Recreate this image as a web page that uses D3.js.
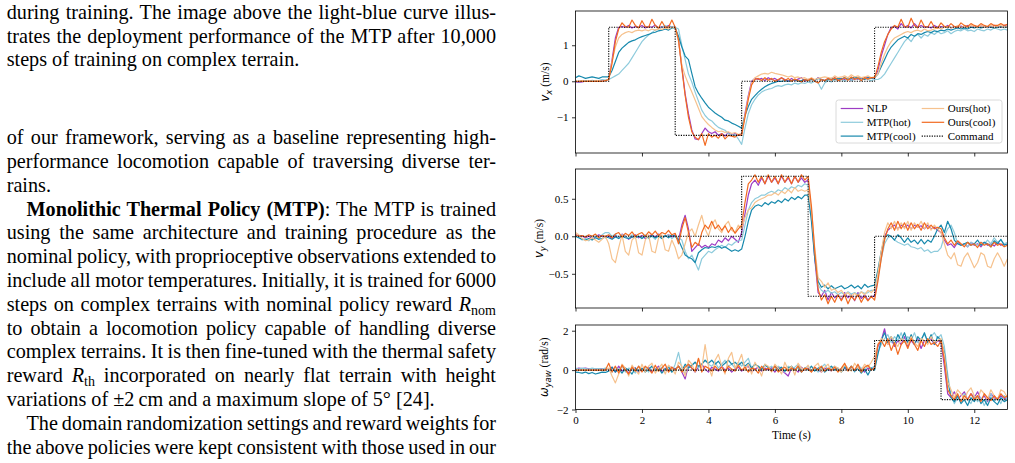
<!DOCTYPE html>
<html>
<head>
<meta charset="utf-8">
<script src="https://cdn.jsdelivr.net/npm/d3@7"></script>
<style>
  body { margin: 0; background: #fff; }
  svg { display: block; }
</style>
</head>
<body>
<div id="fig"></div>
<script>
// sample times (s)
const time = [
  0,0.1,0.2,0.3,0.4,0.5,0.6,0.7,0.8,0.9,
  1,1.1,1.2,1.3,1.4,1.5,1.6,1.7,1.8,1.9,
  2,2.1,2.2,2.3,2.4,2.5,2.6,2.7,2.8,2.9,
  3,3.1,3.2,3.3,3.4,3.5,3.6,3.7,3.8,3.9,
  4,4.1,4.2,4.3,4.4,4.5,4.6,4.7,4.8,4.9,
  5,5.1,5.2,5.3,5.4,5.5,5.6,5.7,5.8,5.9,
  6,6.1,6.2,6.3,6.4,6.5,6.6,6.7,6.8,6.9,
  7,7.1,7.2,7.3,7.4,7.5,7.6,7.7,7.8,7.9,
  8,8.1,8.2,8.3,8.4,8.5,8.6,8.7,8.8,8.9,
  9,9.1,9.2,9.3,9.4,9.5,9.6,9.7,9.8,9.9,
  10,10.1,10.2,10.3,10.4,10.5,10.6,10.7,10.8,10.9,
  11,11.1,11.2,11.3,11.4,11.5,11.6,11.7,11.8,11.9,
  12,12.1,12.2,12.3,12.4,12.5,12.6,12.7,12.8,12.9,
  13];

const names = ["NLP", "MTP(hot)", "MTP(cool)", "Ours(hot)", "Ours(cool)"];
const colors = ["#9d3cc4", "#8ecbdc", "#1789ad", "#f6c28e", "#f26a21"];

// ---- v_x (m/s)
const vxNLP = [
  -0.02,-0.03,-0.02,0,0,0.01,0,0,0.01,0.02,
  0.05,0.6,1.2,1.5,1.52,1.5,1.55,1.48,1.52,1.5,
  1.55,1.48,1.52,1.5,1.56,1.47,1.52,1.5,1.55,1.5,
  1.5,1.15,0.4,-0.35,-0.9,-1.35,-1.6,-1.62,-1.45,-1.3,
  -1.4,-1.45,-1.4,-1.5,-1.45,-1.52,-1.42,-1.5,-1.45,-1.5,
  -1.45,-0.9,-0.4,0,0.08,0.05,0.08,0.02,0.1,0.05,
  0.08,0.02,0.1,0.05,0,0.08,0.02,0.06,0.1,0,
  0.05,0.08,0.02,0.1,0.05,0.02,0.08,0.05,0.1,0.03,
  0.08,0.05,0.1,0.02,0.08,0.05,0.1,0.06,0.12,0.08,
  0.1,0.3,0.7,1.0,1.3,1.5,1.52,1.45,1.6,1.5,
  1.55,1.48,1.6,1.5,1.55,1.5,1.52,1.48,1.55,1.5,
  1.52,1.5,1.55,1.48,1.52,1.5,1.53,1.5,1.55,1.5,
  1.52,1.5,1.55,1.5,1.52,1.5,1.55,1.52,1.5,1.55,
  1.52];
const vxMTPhot = [
  0,-0.02,0,0.02,0,0.03,0,0.02,0.05,0.03,
  0.05,0.1,0.15,0.2,0.3,0.4,0.5,0.65,0.8,0.95,
  1.1,1.2,1.28,1.35,1.42,1.45,1.5,1.55,1.5,1.52,
  1.5,1.45,1.0,0.6,0.2,-0.02,-0.3,-0.55,-0.8,-0.95,
  -1.05,-1.1,-1.2,-1.28,-1.32,-1.36,-1.45,-1.5,-1.48,-1.6,
  -1.75,-1.3,-0.9,-0.65,-0.5,-0.38,-0.3,-0.25,-0.22,-0.2,
  -0.15,-0.12,-0.14,-0.1,-0.08,-0.1,-0.05,-0.08,-0.04,-0.06,
  -0.02,-0.05,0,-0.04,-0.22,-0.05,0.02,-0.02,0.05,0.02,
  0.05,0,0.08,0.02,0.05,0.08,0.02,0.1,0.05,0.02,
  0.05,0.05,0.1,0.2,0.35,0.5,0.65,0.8,0.95,1.1,
  1.2,1.1,1.25,1.3,1.2,1.3,1.25,1.35,1.3,1.38,
  1.32,1.35,1.4,1.32,1.38,1.42,1.4,1.45,1.4,1.42,
  1.38,1.45,1.42,1.4,1.45,1.42,1.48,1.45,1.42,1.45,
  1.42];
const vxMTPcool = [
  0.1,0.15,0.12,0.08,0.1,0.12,0.1,0.08,0.12,0.12,
  0.12,0.3,0.55,0.8,0.92,1.0,1.08,1.12,1.15,1.2,
  1.24,1.27,1.3,1.34,1.36,1.4,1.42,1.45,1.42,1.48,
  1.48,1.25,0.95,0.7,0.6,0.22,-0.15,-0.33,-0.47,-0.6,
  -0.72,-0.8,-0.88,-0.94,-1.0,-1.08,-1.1,-1.16,-1.2,-1.25,
  -1.3,-0.95,-0.7,-0.5,-0.4,-0.3,-0.22,-0.15,-0.1,-0.06,
  -0.03,0,0,0.02,0,0.02,0.05,0,0.02,0.05,
  0.02,0.05,0.03,0.08,0.05,0.02,0.05,0.08,0.05,0.08,
  0.06,0.1,0.05,0.08,0.12,0.08,0.1,0.05,0.1,0.08,
  0.1,0.2,0.4,0.6,0.8,0.95,1.05,1.15,1.2,1.25,
  1.2,1.3,1.25,1.32,1.3,1.35,1.38,1.35,1.4,1.38,
  1.42,1.4,1.45,1.42,1.45,1.48,1.45,1.48,1.45,1.5,
  1.48,1.5,1.48,1.5,1.52,1.5,1.48,1.5,1.52,1.5,
  1.5];
const vxOurshot = [
  0,0,0.02,0,0.02,0,0.01,0.02,0,0.02,
  0.05,0.55,0.95,1.2,1.3,1.35,1.38,1.35,1.4,1.42,
  1.4,1.43,1.4,1.45,1.42,1.46,1.44,1.48,1.45,1.5,
  1.48,1.1,0.45,0.15,-0.08,-0.3,-0.52,-0.75,-0.98,-1.1,
  -1.2,-1.28,-1.35,-1.4,-1.38,-1.42,-1.4,-1.45,-1.42,-1.48,
  -1.45,-0.95,-0.45,-0.05,0.1,0.15,0.2,0.22,0.2,0.25,
  0.22,0.2,0.18,0.15,0.12,0.15,0.1,0.12,0.08,0.1,
  0.05,0.1,0.05,0.08,0.1,0.12,0.1,0.08,0.15,0.1,
  0.12,0.15,0.1,0.18,0.12,0.15,0.1,0.12,0.15,0.1,
  0.12,0.2,0.5,0.75,0.95,1.1,1.2,1.25,1.3,1.35,
  1.38,1.35,1.4,1.42,1.38,1.45,1.4,1.42,1.45,1.48,
  1.45,1.5,1.52,1.48,1.5,1.55,1.5,1.52,1.5,1.55,
  1.52,1.5,1.55,1.5,1.52,1.55,1.5,1.52,1.55,1.5,
  1.52];
const vxOurscool = [
  0,0,0,0,0,0,0,0,0,0.02,
  0.05,0.5,1.1,1.45,1.62,1.52,1.5,1.7,1.55,1.48,
  1.68,1.52,1.5,1.72,1.55,1.48,1.66,1.5,1.5,1.7,
  1.5,1.15,0.35,-0.4,-1.0,-1.4,-1.55,-1.62,-1.45,-1.78,
  -1.45,-1.55,-1.5,-1.58,-1.45,-1.6,-1.5,-1.52,-1.55,-1.48,
  -1.5,-1.0,-0.5,-0.1,0.05,0.08,0.02,0.1,0.03,0.08,
  0,0.05,0.1,0.02,0.08,0,0.06,0.02,-0.02,0.05,
  0.02,0.08,0,-0.05,0.05,0.02,0.08,0.03,0.1,0.02,
  0.05,0.1,0.03,0.12,0.05,0.1,0.02,0.1,0.06,0.1,
  0.1,0.4,0.8,1.1,1.3,1.45,1.55,1.5,1.72,1.52,
  1.5,1.75,1.55,1.48,1.7,1.52,1.5,1.66,1.5,1.48,
  1.62,1.52,1.5,1.6,1.52,1.5,1.62,1.55,1.52,1.6,
  1.55,1.52,1.6,1.55,1.52,1.6,1.55,1.55,1.6,1.55,
  1.58];
const cmdVxT = [0, 1, 1, 3, 3, 5, 5, 9, 9, 13];
const cmdVx  = [0, 0, 1.5, 1.5, -1.5, -1.5, 0, 0, 1.5, 1.5];

// ---- v_y (m/s)
const vyNLP = [
  0.02,0.01,0,-0.02,0,-0.03,-0.01,0.02,0,-0.02,
  0,-0.03,0.01,-0.02,0.03,0,-0.04,-0.01,0.02,-0.02,
  0.01,-0.03,0,0.02,-0.01,0.03,-0.02,0,0.02,-0.01,
  0.02,-0.05,0.15,0.28,0.1,-0.2,-0.15,-0.1,-0.15,-0.12,
  -0.15,-0.1,-0.12,-0.05,-0.08,-0.02,-0.06,0,-0.04,-0.08,
  0.05,0.3,0.55,0.7,0.75,0.68,0.78,0.7,0.8,0.72,
  0.78,0.7,0.8,0.72,0.78,0.7,0.8,0.72,0.78,0.72,
  0.75,0.3,-0.3,-0.75,-0.8,-0.72,-0.85,-0.75,-0.82,-0.78,
  -0.85,-0.75,-0.82,-0.78,-0.86,-0.75,-0.83,-0.78,-0.85,-0.8,
  -0.8,-0.55,-0.25,0,0.08,0.12,0.15,0.1,0.15,0.12,
  0.15,0.1,0.15,0.12,0.14,0.1,0.15,0.1,0.12,0.08,
  0.05,-0.05,-0.12,-0.1,-0.15,-0.08,-0.12,-0.1,-0.14,-0.08,
  -0.12,-0.1,-0.14,-0.08,-0.12,-0.1,-0.13,-0.08,-0.12,-0.1,
  -0.12];
const vyMTPhot = [
  0,-0.02,-0.05,-0.03,-0.06,-0.02,0,-0.04,0.02,0.05,
  0.05,0,0.03,-0.02,0.02,0,-0.03,0.02,-0.02,0,
  -0.02,0.02,-0.03,0,-0.04,0.02,-0.02,0,0.02,-0.03,
  0,-0.02,-0.05,-0.2,-0.3,-0.25,-0.35,-0.45,-0.3,-0.25,
  -0.2,-0.22,-0.18,-0.15,-0.12,-0.15,-0.1,-0.12,-0.08,-0.06,
  -0.05,0.15,0.35,0.45,0.5,0.52,0.55,0.55,0.58,0.6,
  0.58,0.62,0.6,0.65,0.62,0.66,0.64,0.68,0.66,0.7,
  0.68,0.3,-0.25,-0.65,-0.72,-0.75,-0.72,-0.76,-0.74,-0.78,
  -0.75,-0.78,-0.74,-0.77,-0.75,-0.78,-0.74,-0.76,-0.75,-0.72,
  -0.72,-0.55,-0.3,-0.1,-0.02,0,-0.05,-0.08,-0.1,-0.12,
  -0.1,-0.14,-0.15,-0.17,-0.15,-0.2,-0.18,-0.22,-0.2,-0.2,
  -0.15,0,0.1,0.15,0.05,-0.1,-0.12,-0.1,-0.14,-0.08,
  -0.1,-0.12,-0.08,-0.1,-0.05,-0.1,-0.02,-0.08,-0.05,-0.1,
  -0.08];
const vyMTPcool = [
  0,-0.02,-0.04,-0.05,-0.03,-0.05,-0.02,-0.04,-0.03,-0.01,
  -0.02,-0.04,-0.01,-0.03,0,-0.02,-0.03,-0.01,-0.02,0,
  -0.03,0,-0.02,0.01,-0.02,0,-0.03,0.01,-0.02,0.02,
  0,-0.05,-0.15,-0.25,-0.28,-0.3,-0.35,-0.22,-0.18,-0.15,
  -0.16,-0.14,-0.15,-0.13,-0.16,-0.14,-0.17,-0.2,-0.18,-0.2,
  -0.17,0.0,0.2,0.35,0.4,0.42,0.4,0.45,0.42,0.46,
  0.44,0.48,0.45,0.5,0.47,0.52,0.49,0.53,0.5,0.55,
  0.55,0.2,-0.3,-0.6,-0.68,-0.65,-0.7,-0.66,-0.7,-0.68,
  -0.66,-0.7,-0.68,-0.65,-0.69,-0.66,-0.7,-0.64,-0.68,-0.66,
  -0.65,-0.45,-0.2,-0.02,0.02,0,-0.05,0.02,-0.02,-0.08,
  -0.02,-0.08,-0.05,-0.1,-0.04,-0.1,-0.05,-0.08,0.0,0.1,
  0.15,0.05,0.2,0.1,-0.05,-0.1,-0.12,-0.1,-0.08,-0.12,
  -0.1,-0.05,-0.12,-0.08,-0.1,-0.14,-0.06,-0.1,-0.04,-0.12,
  -0.1];
const vyOurshot = [
  0.05,0.02,-0.03,-0.06,-0.05,-0.02,-0.05,-0.08,-0.04,0,
  -0.1,-0.3,-0.35,-0.15,0.02,-0.2,-0.25,-0.05,0.0,-0.22,
  -0.25,-0.05,0.02,-0.2,-0.22,-0.02,0.02,-0.18,-0.2,-0.05,
  -0.15,-0.3,-0.25,-0.1,0.05,0.1,0.0,0.15,0.28,0.1,
  0.0,0.15,0.22,0.1,0.05,0.15,0.2,0.08,0.05,0.15,
  0.1,0.25,0.35,0.38,0.45,0.48,0.5,0.52,0.55,0.55,
  0.58,0.55,0.6,0.57,0.62,0.58,0.65,0.6,0.62,0.6,
  0.62,0.35,-0.15,-0.55,-0.6,-0.68,-0.62,-0.72,-0.7,-0.75,
  -0.72,-0.78,-0.75,-0.8,-0.76,-0.8,-0.74,-0.78,-0.72,-0.75,
  -0.7,-0.5,-0.2,0.05,0.18,0.1,0.2,0.08,0.18,0.1,
  0.2,0.08,0.18,0.12,0.2,0.1,0.18,0.08,0.15,0.1,
  0.05,-0.1,-0.25,-0.3,-0.22,-0.38,-0.4,-0.28,-0.22,-0.32,
  -0.42,-0.35,-0.22,-0.25,-0.4,-0.42,-0.3,-0.22,-0.3,-0.4,
  -0.3];
const vyOurscool = [
  0.02,0,0.01,-0.01,0.02,0,0.03,-0.02,0.01,0,
  0.02,-0.02,0.03,0.05,-0.01,0.04,0.01,0.06,0,0.03,
  0.05,0,0.06,0.02,0.07,0.01,0.05,0.03,0.08,0.02,
  0.04,-0.1,0.1,0.25,0.05,-0.15,-0.08,-0.12,0.05,0.15,
  0.1,0.2,0.1,0.15,0.08,0.14,0.05,0.12,0.04,0.1,
  0.15,0.45,0.7,0.75,0.82,0.72,0.8,0.7,0.82,0.72,
  0.8,0.7,0.82,0.72,0.8,0.7,0.8,0.72,0.82,0.75,
  0.8,0.4,-0.2,-0.7,-0.85,-0.78,-0.9,-0.8,-0.88,-0.78,
  -0.86,-0.78,-0.9,-0.8,-0.85,-0.78,-0.88,-0.8,-0.86,-0.8,
  -0.85,-0.6,-0.3,-0.05,0.1,0.18,0.08,0.2,0.1,0.18,
  0.08,0.18,0.1,0.16,0.08,0.18,0.1,0.15,0.1,0.12,
  0.1,-0.02,-0.1,-0.05,-0.12,-0.06,-0.1,-0.14,-0.08,-0.12,
  -0.1,-0.15,-0.08,-0.12,-0.1,-0.14,-0.08,-0.12,-0.1,-0.14,
  -0.12];
const cmdVyT = [0, 5, 5, 7, 7, 9, 9, 13];
const cmdVy  = [0, 0, 0.8, 0.8, -0.8, -0.8, 0, 0];

// ---- omega_yaw (rad/s)
const wNLP = [
  0.05,0.1,0.08,0.1,0.06,0.08,0.05,0.08,0.06,0.04,
  0.02,0.15,-0.1,0.2,-0.05,0.1,-0.15,0.05,0.12,-0.1,
  0.08,-0.05,0.15,-0.1,0.05,0.2,-0.08,0.1,-0.05,0.15,
  0.05,0.2,-0.1,-0.45,0.25,0.1,-0.1,0.15,0.3,0.05,
  -0.1,0.15,0.05,-0.05,0.2,0.0,0.1,-0.1,0.05,0.15,
  -0.05,0.1,0.2,-0.1,0.05,0.15,-0.05,0.1,0.0,0.12,
  -0.1,0.15,0.0,-0.15,-0.3,0.1,0.05,-0.1,0.15,0.0,
  0.1,-0.05,0.15,0.0,-0.1,0.1,0.05,-0.05,0.15,0.05,
  -0.05,0.1,0.0,0.15,-0.05,0.1,0.05,-0.1,0.1,0.05,
  0.2,1.2,1.5,2.1,1.3,1.6,1.2,1.5,1.3,1.7,
  1.2,1.5,1.3,1.6,1.1,1.5,1.4,1.6,1.3,1.5,
  1.4,0.2,-1.2,-1.4,-1.1,-1.5,-1.3,-1.1,-1.5,-1.2,
  -1.4,-1.1,-1.5,-1.3,-1.6,-1.2,-1.4,-1.5,-1.3,-1.45,
  -1.4];
const wMTPhot = [
  0.1,0.05,0.1,0.08,0.05,0.1,0.06,0.08,0.05,0.1,
  0.05,-0.1,0.15,0.0,0.2,-0.1,0.1,0.05,-0.15,0.2,
  0.0,0.15,-0.1,0.2,0.05,-0.05,0.15,0.0,0.2,-0.1,
  0.3,0.9,0.1,-0.2,0.3,0.2,0.4,0.1,0.3,0.5,
  0.3,0.2,0.4,0.1,0.3,0.5,0.2,0.3,0.1,0.4,
  0.2,0.4,0.6,0.1,0.3,0.2,0.0,0.3,0.1,0.2,
  0.0,0.2,0.1,-0.1,0.2,0.0,0.15,0.3,-0.05,0.1,
  0.2,0.0,0.1,-0.1,0.15,0.3,0.0,0.1,0.2,-0.05,
  0.1,0.2,0.0,0.15,-0.1,0.25,0.1,0.0,0.2,0.1,
  0.2,0.9,1.3,1.6,1.8,1.4,1.7,1.5,1.9,1.4,
  1.7,1.5,1.9,1.4,1.6,1.8,1.5,1.7,1.9,1.6,
  1.8,1.2,-0.2,-1.3,-1.7,-1.4,-1.6,-1.2,-1.5,-1.7,
  -1.3,-1.6,-1.4,-1.8,-1.5,-1.2,-1.6,-1.4,-1.7,-1.3,
  -1.5];
const wMTPcool = [
  -0.1,-0.12,-0.15,-0.1,-0.18,-0.12,-0.2,-0.15,-0.1,-0.12,
  -0.05,0.15,-0.1,0.05,-0.15,0.1,0.0,-0.2,0.1,-0.05,
  0.1,-0.1,0.05,0.2,-0.05,0.1,-0.15,0.05,0.15,-0.1,
  0.05,0.2,-0.05,0.3,0.1,0.25,0.4,0.2,0.3,0.5,
  0.35,0.5,0.3,0.45,0.2,0.35,0.5,0.3,0.4,0.25,
  0.4,0.2,0.35,0.1,0.3,0.2,0.05,0.25,0.15,0.0,
  0.2,0.05,0.15,-0.05,0.1,0.2,0.0,0.15,-0.1,0.1,
  0.0,0.2,-0.05,0.1,0.15,-0.1,0.05,0.2,0.0,0.1,
  -0.1,0.15,0.0,0.2,-0.05,0.1,-0.15,0.05,-0.25,0.1,
  0.0,0.8,1.5,1.9,1.4,1.7,1.3,1.8,1.5,1.9,
  1.4,1.8,1.3,1.7,1.5,1.9,1.4,1.8,1.3,1.7,
  1.5,0.9,-0.5,-1.4,-1.6,-1.3,-1.7,-1.5,-1.8,-1.4,
  -1.6,-1.3,-1.7,-1.5,-1.8,-1.4,-1.6,-1.75,-1.4,-1.6,
  -1.5];
const wOurshot = [
  0,0,0,0,0,0,0,0,0,0,
  0.1,-0.3,-0.65,-0.2,0.3,0.1,-0.3,0.25,0.0,-0.2,
  0.3,-0.1,0.2,0.35,-0.15,0.1,0.3,-0.2,0.25,0.1,
  -0.2,0.4,0.2,-0.3,0.5,0.3,-0.1,0.6,0.1,1.3,
  0.2,-0.3,0.5,0.8,0.2,-0.2,0.6,0.9,0.1,0.4,
  0.8,0.0,0.3,-0.2,0.4,0.1,-0.3,0.3,0.2,-0.1,
  0.3,0.1,-0.2,0.4,0.0,0.2,-0.25,0.35,0.1,0.0,
  0.25,-0.1,0.2,0.35,-0.1,0.15,0.3,-0.05,0.2,0.1,
  -0.1,0.3,0.1,-0.05,0.35,0.1,0.0,0.3,0.15,0.4,
  0.7,1.3,1.6,1.5,1.3,1.7,1.4,1.2,1.6,1.5,
  1.3,1.7,1.4,1.2,1.6,1.5,1.3,1.7,1.4,1.5,
  1.6,0.8,-0.6,-1.0,-1.4,-1.0,-1.2,-1.5,-1.1,-0.9,
  -1.3,-1.5,-1.0,-1.2,-1.5,-1.0,-1.3,-1.5,-1.0,-1.1,
  -1.4];
const wOurscool = [
  0,0,0,0,0,0,0,0,0,0,
  0.35,-0.1,0.2,-0.15,0.25,0.0,-0.2,0.15,-0.05,0.2,
  -0.1,0.2,0.05,-0.15,0.25,-0.05,0.1,0.3,-0.1,0.15,
  0.0,0.2,-0.1,0.15,0.3,0.1,-0.05,0.6,-0.1,0.2,
  0.1,-0.05,0.2,0.0,0.15,-0.1,0.2,0.05,-0.05,0.25,
  0.0,0.15,-0.1,0.1,0.05,-0.15,0.2,0.0,0.1,-0.05,
  0.2,-0.1,0.05,0.15,-0.05,0.1,0.0,0.2,-0.1,0.1,
  0.05,-0.1,0.15,0.0,0.2,-0.05,0.1,0.0,0.15,-0.1,
  0.1,0.35,-0.05,0.2,0.0,0.3,-0.1,0.15,0.25,0.0,
  0.1,1.3,1.5,1.2,1.6,1.0,1.4,0.8,1.3,1.5,
  1.1,1.6,1.3,1.0,1.5,1.2,1.6,1.3,1.4,1.2,
  1.5,0.5,-1.0,-1.3,-1.5,-1.2,-1.6,-1.3,-1.5,-1.2,
  -1.5,-1.3,-1.6,-1.2,-1.4,-1.55,-1.3,-1.5,-1.2,-1.4,
  -1.3];
const cmdWT = [0, 9, 9, 11, 11, 13];
const cmdW  = [0, 0, 1.5, 1.5, -1.5, -1.5];

const xTicks = [0, 2, 4, 6, 8, 10, 12];

// ---- page
const W = 1015, H = 463;
const svg = d3.select("#fig").append("svg")
    .attr("width", W)
    .attr("height", H)
    .attr("font-family", "'Liberation Serif', 'Times New Roman', serif");

// ---------- left column text
const textLeft = 6.7, textRight = 496, indent = 26.5;
const txt = svg.append("g").attr("font-size", 20.2).attr("fill", "#000");

function addLine(parts, x0, y, justify) {
    const t = txt.append("text").attr("x", x0).attr("y", y);
    let shift = 0;
    parts.forEach(p => {
        const s = typeof p === "string" ? p : p[0];
        const st = typeof p === "string" ? "" : p[1];
        const ts = t.append("tspan").text(s);
        if (st.includes("b")) ts.attr("font-weight", "bold");
        if (st.includes("i")) ts.attr("font-style", "italic");
        if (st.includes("s")) { ts.attr("font-size", 14).attr("dy", 4); shift = 4; }
        else if (shift) { ts.attr("dy", -shift); shift = 0; }
    });
    if (justify) {
        const len = t.node().getComputedTextLength();
        const str = parts.map(p => typeof p === "string" ? p : p[0]).join("");
        const n = (str.match(/ /g) || []).length;
        if (n) t.style("word-spacing", ((textRight - x0 - len) / n) + "px");
    }
}

const blockA = [
    [["during training. The image above the light-blue curve illus-"], true],
    [["trates the deployment performance of the MTP after 10,000"], true],
    [["steps of training on complex terrain."], false]
];
blockA.forEach((l, i) => addLine(l[0], textLeft, 18.8 + i * 23.8, l[1]));

const blockB = [
    [["of our framework, serving as a baseline representing high-"], true, false],
    [["performance locomotion capable of traversing diverse ter-"], true, false],
    [["rains."], false, false],
    [[["Monolithic Thermal Policy (MTP)", "b"], ": The MTP is trained"], true, true],
    [["using the same architecture and training procedure as the"], true, false],
    [["nominal policy, with proprioceptive observations extended to"], true, false],
    [["include all motor temperatures. Initially, it is trained for 6000"], true, false],
    [["steps on complex terrains with nominal policy reward ", ["R", "i"], ["nom", "s"]], true, false],
    [["to obtain a locomotion policy capable of handling diverse"], true, false],
    [["complex terrains. It is then fine-tuned with the thermal safety"], true, false],
    [["reward ", ["R", "i"], ["th", "s"], " incorporated on nearly flat terrain with height"], true, false],
    [["variations of \u00b12\u2009cm and a maximum slope of 5\u00b0 [24]."], false, false],
    [["The domain randomization settings and reward weights for"], true, true],
    [["the above policies were kept consistent with those used in our"], true, false]
];
blockB.forEach((l, i) => addLine(l[0], l[2] ? indent : textLeft, 144.1 + i * 23.8, l[1]));

// ---------- chart
const x = d3.scaleLinear().domain([0, 13]).range([575.5, 1007.5]);

const panels = [
    { top: 11, bottom: 153, dom: [-1.99, 1.95], ticks: [-1, 0, 1], fmt: d3.format("d"),
      series: [vxNLP, vxMTPhot, vxMTPcool, vxOurshot, vxOurscool], cmdT: cmdVxT, cmd: cmdVx,
      label: [["v", "i"], ["x", "is"], [" (m/s)", ""]], labelX: 549 },
    { top: 169, bottom: 308, dom: [-0.956, 0.897], ticks: [-0.5, 0, 0.5], fmt: d3.format(".1f"),
      series: [vyNLP, vyMTPhot, vyMTPcool, vyOurshot, vyOurscool], cmdT: cmdVyT, cmd: cmdVy,
      label: [["v", "i"], ["y", "is"], [" (m/s)", ""]], labelX: 543 },
    { top: 325, bottom: 409.5, dom: [-2.0, 2.29], ticks: [-2, 0, 2], fmt: d3.format("d"),
      series: [wNLP, wMTPhot, wMTPcool, wOurshot, wOurscool], cmdT: cmdWT, cmd: cmdW,
      label: [["\u03c9", "i"], ["yaw", "is"], [" (rad/s)", ""]], labelX: 548 }
];

panels.forEach((p, i) => {
    const y = d3.scaleLinear().domain(p.dom).range([p.bottom, p.top]);
    const g = svg.append("g");

    svg.append("clipPath").attr("id", "clip" + i)
        .append("rect")
        .attr("x", x(0)).attr("y", p.top)
        .attr("width", x(13) - x(0)).attr("height", p.bottom - p.top);

    const plot = g.append("g").attr("clip-path", "url(#clip" + i + ")");
    const line = d3.line().x((d, j) => x(time[j])).y(d => y(d));

    p.series.forEach((s, k) => {
        plot.append("path")
            .datum(s)
            .attr("d", line)
            .attr("fill", "none")
            .attr("stroke", colors[k])
            .attr("stroke-width", 1.2)
            .attr("stroke-linejoin", "round");
    });

    const cmdLine = d3.line().x((d, j) => x(p.cmdT[j])).y(d => y(d));
    plot.append("path")
        .datum(p.cmd)
        .attr("d", cmdLine)
        .attr("fill", "none")
        .attr("stroke", "#000")
        .attr("stroke-width", 1.1)
        .attr("stroke-dasharray", "1.2,1.3");

    // axes
    const ya = g.append("g")
        .attr("transform", "translate(" + x(0) + ",0)")
        .call(d3.axisLeft(y).tickValues(p.ticks).tickFormat(p.fmt).tickSize(3.5).tickPadding(3.5));
    const xa = g.append("g")
        .attr("transform", "translate(0," + p.bottom + ")")
        .call(d3.axisBottom(x).tickValues(xTicks)
            .tickFormat(i === 2 ? d3.format("d") : "")
            .tickSize(3.5).tickPadding(3.5));
    [ya, xa].forEach(a => {
        a.attr("font-family", null).attr("font-size", 11);
        a.select(".domain").remove();
        a.selectAll(".tick line").attr("stroke", "#000").attr("stroke-width", 0.8);
        a.selectAll(".tick text").attr("fill", "#000");
    });

    g.append("rect")
        .attr("x", x(0)).attr("y", p.top)
        .attr("width", x(13) - x(0)).attr("height", p.bottom - p.top)
        .attr("fill", "none")
        .attr("stroke", "#000")
        .attr("stroke-width", 0.8);

    // y label
    const lab = g.append("text")
        .attr("transform", "translate(" + p.labelX + "," + (p.top + p.bottom) / 2 + ") rotate(-90)")
        .attr("text-anchor", "middle")
        .attr("font-size", 11.5);
    let sh = 0;
    p.label.forEach(part => {
        const ts = lab.append("tspan").text(part[0]);
        if (part[1].includes("i")) ts.attr("font-family", "'DejaVu Sans', sans-serif").attr("font-style", "italic");
        if (part[1].includes("s")) { ts.attr("font-size", 8.5).attr("dy", 2.5); sh = 2.5; }
        else if (sh) { ts.attr("dy", -sh); sh = 0; }
    });
});

svg.append("text")
    .attr("x", (x(0) + x(13)) / 2)
    .attr("y", 438.5)
    .attr("text-anchor", "middle")
    .attr("font-size", 11.5)
    .text("Time (s)");

// ---------- legend (top panel, lower right)
const leg = svg.append("g");
leg.append("rect")
    .attr("x", 836).attr("y", 100)
    .attr("width", 166).attr("height", 43)
    .attr("rx", 2.5)
    .attr("fill", "#fff").attr("fill-opacity", 0.8)
    .attr("stroke", "#d0d0d0").attr("stroke-width", 0.8);

const legNames = names.concat(["Command"]);
legNames.forEach((n, k) => {
    const col = Math.floor(k / 3), row = k % 3;
    const lx = col === 0 ? 840.7 : 921.7;
    const ly = 108.5 + row * 13.8;
    const ln = leg.append("line")
        .attr("x1", lx).attr("x2", lx + 22.5)
        .attr("y1", ly).attr("y2", ly)
        .attr("stroke", k < 5 ? colors[k] : "#000")
        .attr("stroke-width", k < 5 ? 1.2 : 1.1);
    if (k === 5) ln.attr("stroke-dasharray", "1.2,1.3");
    leg.append("text")
        .attr("x", lx + 26)
        .attr("y", ly + 3.6)
        .attr("font-size", 11)
        .text(n);
});
</script>
</body>
</html>
